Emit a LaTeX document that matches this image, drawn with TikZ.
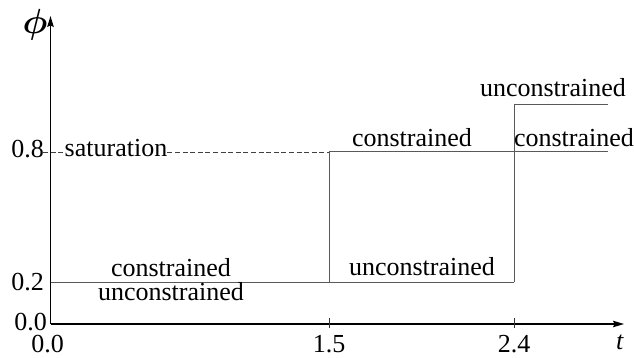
\documentclass[tikz,border=0pt]{standalone}
\usepackage{fontspec}
\setmainfont{Liberation Serif}
\usetikzlibrary{arrows.meta}
\begin{document}
\begin{tikzpicture}[x=1pt,y=-1pt,
  lbl/.style={inner sep=0pt,anchor=base,font=\fontsize{26}{30}\selectfont},
  axisline/.style={line width=1.2pt,black,-{Stealth[length=11pt,width=6.5pt,inset=1.5pt]}},
  stepline/.style={line width=1pt,black!65},
  satline/.style={line width=0.9pt,black!75,dash pattern=on 5pt off 2.6pt},
  tickmark/.style={line width=1pt,black!80}]
\useasboundingbox (0,0) rectangle (634,358);

% axes
\coordinate (O) at (50.5,324);
\coordinate (ytop) at (50.5,16);
\coordinate (xend) at (624,324);
\draw[axisline] (O) -- (ytop);
\draw[axisline] (O) -- (xend);

% ticks on the time axis
\coordinate (t15) at (329,324);
\coordinate (t24) at (514,324);
\draw[tickmark] ([yshift=-4]t15) -- ([yshift=6]t15);
\draw[tickmark] ([yshift=-4]t24) -- ([yshift=6]t24);

% axis labels
\node[lbl,scale=1.4,font=\fontsize{24}{28}\selectfont\mathversion{bold}] (phi) at (35,34) {$\phi$};
\node[lbl] (tlab) at (620,349) {\textit{t}};
\node[lbl,anchor=base east] (y08) at (44,158) {0.8};
\node[lbl,anchor=base east] (y02) at (44,290) {0.2};
\node[lbl,anchor=base east] (y00) at (47,330) {0.0};
\node[lbl] (x00) at (47.5,352) {0.0};
\node[lbl] (x15) at (329,352) {1.5};
\node[lbl] (x24) at (514,352) {2.4};

% saturation level
\node[lbl] (sat) at (116,157) {saturation};
\coordinate (s0) at (43,152);
\coordinate (s1) at (329,152);
\draw[satline] (s0) -- (sat.west |- s0);
\draw[satline] (sat.east |- s0) -- (s1);

% step path of phi
\coordinate (a0) at (50.5,282);
\coordinate (a1) at (329,282);
\coordinate (a2) at (514,282);
\coordinate (b1) at (329,152);
\coordinate (b2) at (514,152);
\coordinate (b3) at (608,152);
\coordinate (c2) at (514,105);
\coordinate (c3) at (608,105);
\draw[stepline] (a0) -- (a2);
\draw[stepline] (a1) -- (b1);
\draw[stepline] (b1) -- (b3);
\draw[stepline] (a2) -- (c2) -- (c3);

% regime labels
\node[lbl] (l1) at (171,276) {constrained};
\node[lbl] (l2) at (171,300) {unconstrained};
\node[lbl] (l3) at (422,275) {unconstrained};
\node[lbl] (l4) at (412,147) {constrained};
\node[lbl] (l5) at (574,147) {constrained};
\node[lbl] (l6) at (553,97) {unconstrained};
\end{tikzpicture}
\end{document}
